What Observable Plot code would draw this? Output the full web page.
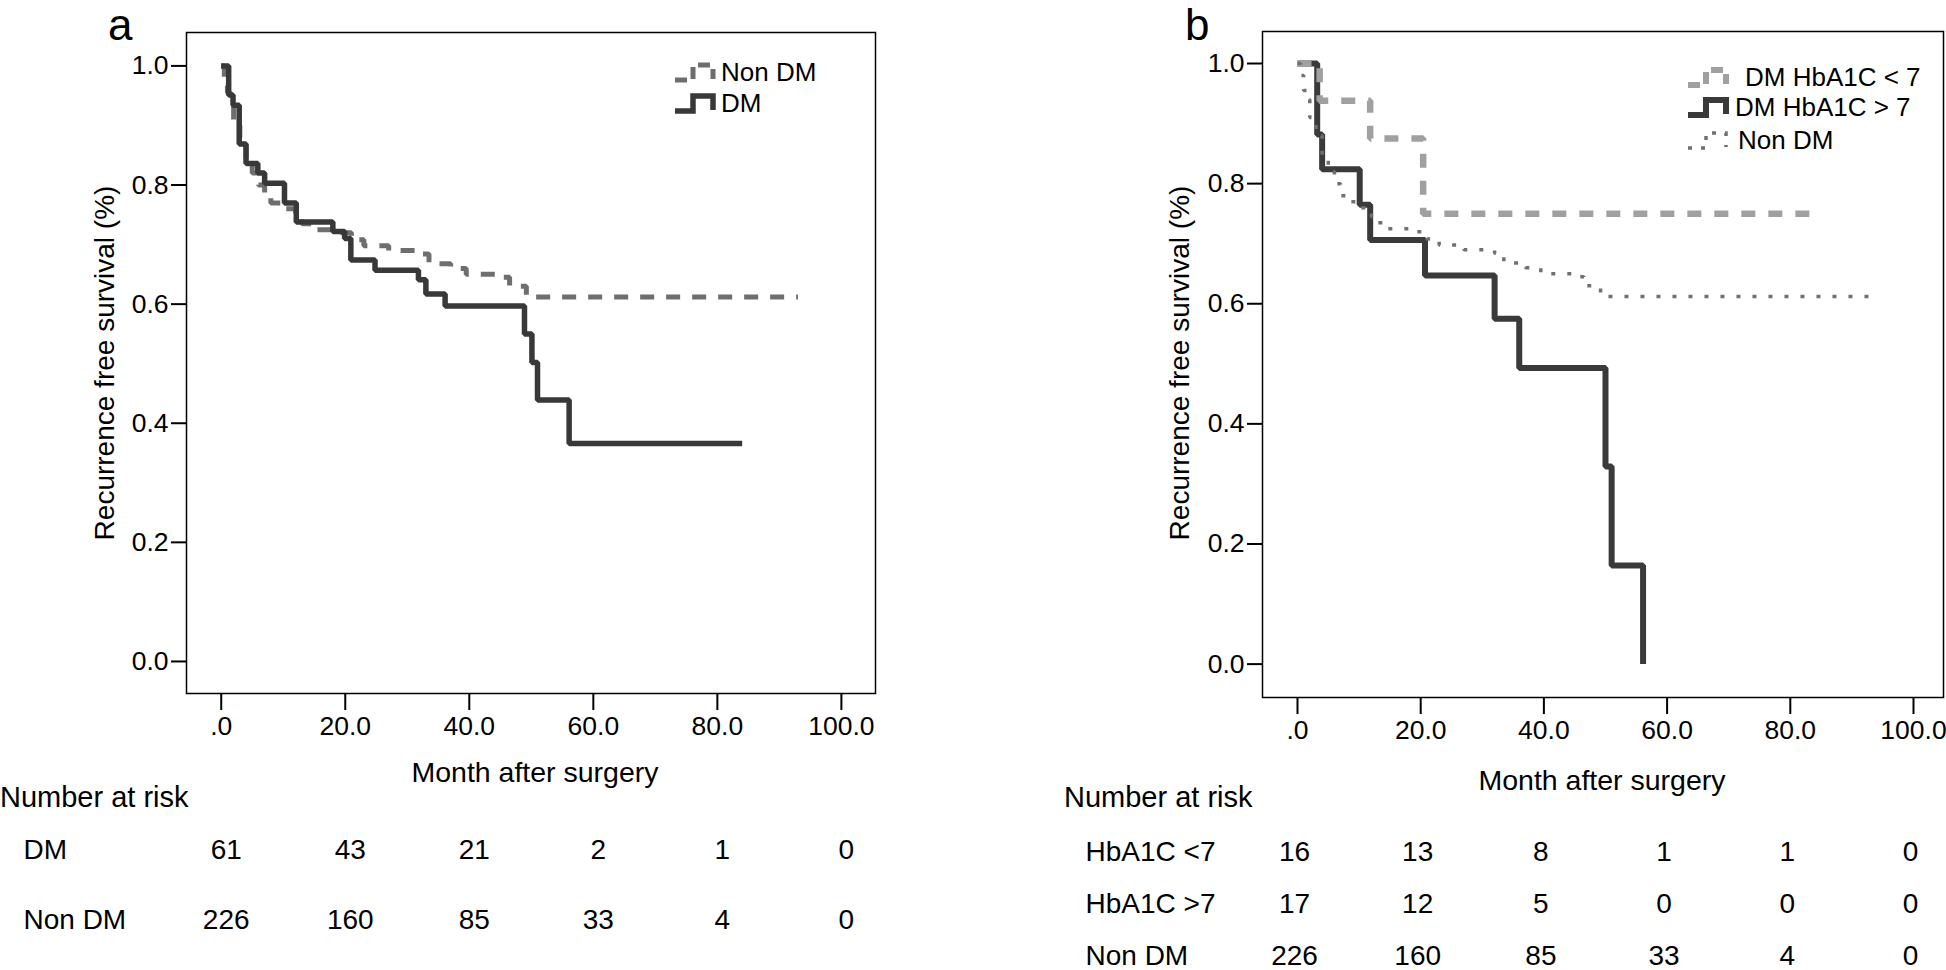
<!DOCTYPE html>
<html><head><meta charset="utf-8">
<script src="https://cdn.jsdelivr.net/npm/d3@7"></script>
<script src="https://cdn.jsdelivr.net/npm/@observablehq/plot@0.6"></script>
<style>
html,body{margin:0;padding:0;background:#fff;}
#root{position:relative;width:1946px;height:970px;overflow:hidden;font-family:"Liberation Sans",Arial,sans-serif;color:#000;background:#fff;}
.abs{position:absolute;white-space:nowrap;line-height:1;}
</style></head><body><div id="root"></div>
<script>
// ---------- data ----------
const xTicks = [0, 20, 40, 60, 80, 100];
const xTickLabels = [".0", "20.0", "40.0", "60.0", "80.0", "100.0"];
const yTicks = [0, 0.2, 0.4, 0.6, 0.8, 1.0];
const yTickLabels = ["0.0", "0.2", "0.4", "0.6", "0.8", "1.0"];

// panel a
const dmTime = [0, 1.2, 1.9, 2.9, 4.0, 5.9, 7.0, 10.2, 12.1, 18.0, 19.9, 20.9, 24.8, 31.8, 33.0, 36.1, 48.9, 50.1, 51.0, 56.1, 84.0];
const dmSurv = [1.0, 0.951, 0.934, 0.869, 0.836, 0.820, 0.803, 0.770, 0.738, 0.722, 0.710, 0.674, 0.657, 0.641, 0.617, 0.597, 0.550, 0.502, 0.439, 0.366, 0.366];
const nonTime = [0, 0.5, 1, 1.5, 2, 3, 4, 5, 6, 7, 8, 10, 12, 13, 14.5, 18, 21, 23, 27, 32, 33.5, 37, 39.5, 45, 46.5, 49.2, 93];
const nonSurv = [1.0, 0.98, 0.955, 0.94, 0.91, 0.88, 0.845, 0.82, 0.80, 0.78, 0.77, 0.76, 0.745, 0.735, 0.725, 0.72, 0.708, 0.698, 0.69, 0.684, 0.668, 0.66, 0.65, 0.645, 0.63, 0.612, 0.612];

// panel b
const hiTime = [0, 3.2, 4.0, 10.1, 11.8, 20.7, 32.0, 36.0, 50.0, 51.0, 56.1];
const hiSurv = [1.0, 0.882, 0.824, 0.765, 0.706, 0.647, 0.575, 0.493, 0.329, 0.164, 0.0];
const loTime = [0, 3.6, 11.8, 20.4, 83.7];
const loSurv = [1.0, 0.938, 0.875, 0.750, 0.750];

// number at risk
const riskTimes = [0, 20, 40, 60, 80, 100];
const riskARows = ["DM", "Non DM"];
const riskA_DM = [61, 43, 21, 2, 1, 0];
const riskA_Non = [226, 160, 85, 33, 4, 0];
const riskBRows = ["HbA1C <7", "HbA1C >7", "Non DM"];
const riskB_Lo = [16, 13, 8, 1, 1, 0];
const riskB_Hi = [17, 12, 5, 0, 0, 0];
const riskB_Non = [226, 160, 85, 33, 4, 0];

const legendA = ["Non DM", "DM"];
const legendB = ["DM HbA1C < 7", "DM HbA1C > 7", "Non DM"];

// ---------- helpers ----------
const FONT = '"Liberation Sans", Arial, sans-serif';
const root = document.getElementById("root");
const series = (t, s) => t.map((x, i) => ({time: x, surv: s[i]}));
const fmtX = d => xTickLabels[xTicks.indexOf(d)];
const fmtY = d => yTickLabels[yTicks.findIndex(v => Math.abs(v - d) < 1e-9)];

function place(node, left, top) {
  const w = document.createElement("div");
  w.className = "abs";
  w.style.left = left + "px";
  w.style.top = top + "px";
  w.appendChild(node);
  root.appendChild(w);
  return w;
}
function text(str, left, top, size, extra) {
  const d = document.createElement("div");
  d.className = "abs";
  d.textContent = str;
  d.style.left = left + "px";
  d.style.top = top + "px";
  d.style.fontSize = size + "px";
  if (extra) Object.assign(d.style, extra);
  root.appendChild(d);
  return d;
}

function kmPlot(o) {
  return Plot.plot({
    width: o.width, height: o.height,
    marginLeft: o.ml, marginRight: o.mr, marginTop: o.mt, marginBottom: o.mb,
    style: {fontFamily: FONT, fontSize: "26.5px", color: "#000", background: "transparent", overflow: "visible"},
    x: {domain: o.xDomain, label: null},
    y: {domain: o.yDomain, label: null},
    marks: [
      Plot.axisX({ticks: xTicks, tickFormat: fmtX, tickSize: 17, tickPadding: 6, strokeWidth: 2, label: null}),
      Plot.axisY({ticks: yTicks, tickFormat: fmtY, tickSize: 15, tickPadding: 3, strokeWidth: 2, label: null}),
      ...o.layers,
      Plot.frame({stroke: "#000", strokeWidth: 1.5})
    ]
  });
}

function riskPlot(o) {
  const cells = [];
  o.rows.forEach((r, ri) => o.values[ri].forEach((n, i) => cells.push({row: r, time: riskTimes[i], n})));
  return Plot.plot({
    width: o.width, height: o.height,
    marginLeft: o.ml, marginRight: o.mr, marginTop: 0, marginBottom: 0,
    style: {fontFamily: FONT, fontSize: "28px", color: "#000", background: "transparent", overflow: "visible"},
    x: {domain: o.xDomain, axis: null},
    y: {type: "point", domain: o.rows, range: o.yRange, padding: 0, axis: null},
    marks: [
      Plot.text(o.rows, {y: d => d, text: d => d, frameAnchor: "left", textAnchor: "start", dx: o.labelDx}),
      Plot.text(cells, {x: "time", y: "row", text: "n", dx: o.numDx})
    ]
  });
}

const lineOpts = {x: "time", y: "surv", curve: "step-after", strokeLinejoin: "miter", strokeLinecap: "butt"};

// ---------- panel a ----------
const xDomA = [-5.6, 105.5], yDomA = [-0.0538, 1.0561];
place(kmPlot({
  width: 900, height: 760, ml: 186, mr: 25, mt: 32, mb: 67,
  xDomain: xDomA, yDomain: yDomA,
  layers: [
    Plot.line(series(nonTime, nonSurv), {...lineOpts, stroke: "#6e6e6e", strokeWidth: 5, strokeDasharray: "14,12"}),
    Plot.line(series(dmTime, dmSurv), {...lineOpts, stroke: "#383838", strokeWidth: 5.5})
  ]
}), 0, 0);

// ---------- panel b ----------
const xDomB = [-5.68, 104.87], yDomB = [-0.0556, 1.0533];
place(kmPlot({
  width: 946, height: 760, ml: 262, mr: 3, mt: 31, mb: 63,
  xDomain: xDomB, yDomain: yDomB,
  layers: [
    Plot.line(series(hiTime, hiSurv), {...lineOpts, stroke: "#3a3a3a", strokeWidth: 6}),
    Plot.line(series(loTime, loSurv), {...lineOpts, stroke: "#a0a0a0", strokeWidth: 6.5, strokeDasharray: "14,13"}),
    Plot.line(series(nonTime, nonSurv), {...lineOpts, stroke: "#707070", strokeWidth: 3.5, strokeDasharray: "4,12"})
  ]
}), 1000, 0);

// ---------- risk tables ----------
place(riskPlot({width: 900, height: 140, ml: 186, mr: 25, xDomain: xDomA,
  rows: riskARows, values: [riskA_DM, riskA_Non], yRange: [30, 100], labelDx: -163, numDx: 5}), 0, 820);
place(riskPlot({width: 946, height: 150, ml: 262, mr: 3, xDomain: xDomB,
  rows: riskBRows, values: [riskB_Lo, riskB_Hi, riskB_Non], yRange: [31, 136], labelDx: -177, numDx: -3}), 1000, 820);

// ---------- texts ----------
text("a", 108, 0, 44, {lineHeight: "normal"});
text("b", 1185, 0, 44, {lineHeight: "normal"});
text("Number at risk", 0, 783, 29);
text("Number at risk", 1064, 783, 29);
text("Month after surgery", 535, 772, 28.5, {transform: "translate(-50%,-50%)"});
text("Month after surgery", 1602, 780, 28.5, {transform: "translate(-50%,-50%)"});
text("Recurrence free survival (%)", 105, 363, 28, {transform: "translate(-50%,-50%) rotate(-90deg)"});
text("Recurrence free survival (%)", 1180, 363, 28, {transform: "translate(-50%,-50%) rotate(-90deg)"});

// ---------- legends ----------
const NS = "http://www.w3.org/2000/svg";
function sample(stroke, width, dash) {
  const svg = document.createElementNS(NS, "svg");
  svg.setAttribute("width", 46); svg.setAttribute("height", 32);
  const p = document.createElementNS(NS, "path");
  p.setAttribute("d", "M2,24 H20 V9 H40 V23");
  p.setAttribute("fill", "none");
  p.setAttribute("stroke", stroke);
  p.setAttribute("stroke-width", width);
  p.setAttribute("stroke-linejoin", "miter");
  if (dash) p.setAttribute("stroke-dasharray", dash);
  svg.appendChild(p);
  return svg;
}
function legend(items, left, tops, textLefts, size) {
  items.forEach((it, i) => {
    place(it.svg, left, tops[i] - 16);
    text(it.label, textLefts[i], tops[i] - size / 2, size);
  });
}
legend([
  {label: legendA[0], svg: sample("#6e6e6e", 5, "12,7")},
  {label: legendA[1], svg: sample("#383838", 5.5)}
], 673, [72, 103], [721, 721], 26);
legend([
  {label: legendB[0], svg: sample("#a0a0a0", 6, "12,7")},
  {label: legendB[1], svg: sample("#3a3a3a", 6)},
  {label: legendB[2], svg: sample("#707070", 3.5, "4,9")}
], 1686, [77, 107, 140], [1745, 1735, 1738], 26);
</script></body></html>
